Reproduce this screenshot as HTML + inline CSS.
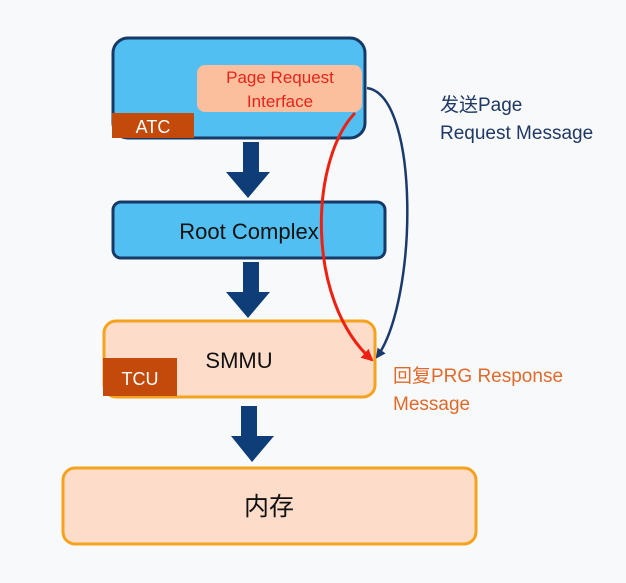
<!DOCTYPE html>
<html><head><meta charset="utf-8"><style>
body{margin:0;background:#f8f9fb;width:626px;height:578px;overflow:hidden;font-family:"Liberation Sans","Noto Sans CJK SC",sans-serif}
</style></head><body>
<svg width="626" height="578" xmlns="http://www.w3.org/2000/svg" style="font-family:'Liberation Sans','Noto Sans CJK SC',sans-serif">
<defs>
<marker id="mb" markerWidth="10" markerHeight="10" refX="8" refY="5" orient="auto" markerUnits="userSpaceOnUse"><path d="M0,0 L10,5 L0,10 z" fill="#1a3a6e"/></marker>
<marker id="mr" markerWidth="12" markerHeight="12" refX="10" refY="6" orient="auto" markerUnits="userSpaceOnUse"><path d="M0,0 L12,6 L0,12 z" fill="#f02010"/></marker>
</defs>
<rect x="0" y="0" width="626" height="578" fill="#f8f9fb"/>
<rect x="113" y="38" width="252" height="100" rx="15" fill="#52bff2" stroke="#163a68" stroke-width="3"/>
<rect x="197" y="65" width="165" height="47" rx="8" fill="#fbbf9e"/>
<text x="280" y="83" font-size="17" fill="#e8241a" text-anchor="middle">Page Request</text>
<text x="280" y="107" font-size="17" fill="#e8241a" text-anchor="middle">Interface</text>
<rect x="112" y="113" width="82" height="25" fill="#c34a0a"/>
<text x="153" y="133" font-size="18" fill="#fff" text-anchor="middle">ATC</text>
<g fill="#0e3d78">
<rect x="243" y="142" width="16" height="30"/><path d="M226,172 L270,172 L248,198 z"/>
<rect x="243" y="262" width="16" height="30"/><path d="M226,292 L270,292 L248,318 z"/>
<rect x="241" y="406" width="16" height="30"/><path d="M231,436 L274,436 L252,462 z"/>
</g>
<rect x="113" y="202" width="272" height="56" rx="8" fill="#52bff2" stroke="#163a68" stroke-width="3"/>
<text x="249" y="239" font-size="22" fill="#111" text-anchor="middle">Root Complex</text>
<rect x="104" y="321" width="271" height="76" rx="12" fill="#fddcc9" stroke="#f5a31e" stroke-width="3"/>
<rect x="103" y="358" width="74" height="38" fill="#c34a0a"/>
<text x="140" y="385" font-size="18" fill="#fff" text-anchor="middle">TCU</text>
<text x="239" y="368" font-size="22" fill="#111" text-anchor="middle">SMMU</text>
<rect x="63" y="468" width="413" height="76" rx="12" fill="#fddcc9" stroke="#f5a31e" stroke-width="3"/>
<text x="269" y="515" font-size="25" fill="#111" text-anchor="middle">内存</text>
<path d="M367,88 C420,95 418,300 377,357" fill="none" stroke="#1a3a6e" stroke-width="2.5" marker-end="url(#mb)"/>
<path d="M355,113 C310,160 305,300 372,360" fill="none" stroke="#f02010" stroke-width="3" marker-end="url(#mr)"/>
<text x="440" y="111" font-size="19" fill="#1f3864">发送Page</text>
<text x="440" y="139" font-size="19" fill="#1f3864">Request Message</text>
<text x="393" y="382" font-size="19" fill="#e06a2a">回复PRG Response</text>
<text x="393" y="410" font-size="19" fill="#e06a2a">Message</text>
</svg>
</body></html>
